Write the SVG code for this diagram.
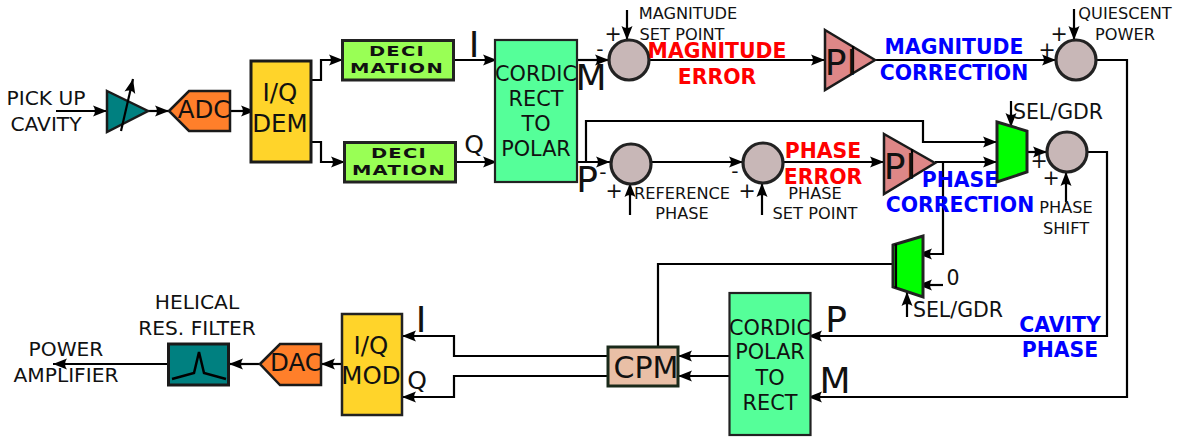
<svg xmlns="http://www.w3.org/2000/svg" width="1181" height="441" viewBox="0 0 1181 441">
<style>
text{font-family:"DejaVu Sans",sans-serif;fill:#111;text-anchor:middle}
.l{fill:none;stroke:#000;stroke-width:2.2}
.a{marker-end:url(#ah)}
.s{stroke:#1a1a1a;stroke-width:2.5}
.t20{font-size:20.5px}.t16{font-size:16.2px}.t18{font-size:20.2px}.c8{font-size:20.8px}
.c{fill:#c8b7b7;stroke:#222;stroke-width:3.2}
.r{fill:#f00;font-weight:bold;font-size:20.4px}
.b{fill:#00f;font-weight:bold;font-size:20.4px}
.d{font-weight:bold;font-size:15px;letter-spacing:1px}
.big{font-size:36px}
.q{font-size:25px}
.m{font-size:24.5px}
</style>
<defs>
<marker id="ah" markerUnits="userSpaceOnUse" markerWidth="18" markerHeight="14" refX="15" refY="7" orient="auto" overflow="visible"><path d="M1 1.500 L15 7 L1 12.500 Q5 7 1 1.500Z" fill="#000"/></marker>
</defs>
<g id="connectors">
<path class="l a" d="M56 111H107"/>
<path class="l a" d="M148 111H169"/>
<path class="l a" d="M230 111H255"/>
<path class="l a" d="M311 80H321V60H343"/>
<path class="l a" d="M311 142H321V162H345"/>
<path class="l a" d="M454 60H497"/>
<path class="l a" d="M456 162H497"/>
<path class="l a" d="M577 60H609"/>
<path class="l a" d="M577 162H610"/>
<path class="l a" d="M586 162V121H923V142H997"/>
<path class="l a" d="M651 162H743"/>
<path class="l a" d="M649 60H825"/>
<path class="l a" d="M875 60H1056"/>
<path class="l a" d="M783 162H884"/>
<path class="l a" d="M935 162H997"/>
<path class="l a" d="M1027 152H1047"/>
<path class="l a" d="M627 10V40"/>
<path class="l a" d="M1074 9V40"/>
<path class="l a" d="M630 215V183"/>
<path class="l a" d="M762 215V183"/>
<path class="l a" d="M1066 202V172"/>
<path class="l a" d="M1011 101V127"/>
<path class="l a" d="M943 162V254H918"/>
<path class="l a" d="M943 285H918"/>
<path class="l a" d="M907 317V292"/>
<path class="l" d="M893 264H658V347"/>
<path class="l a" d="M1087 152H1107V336H808"/>
<path class="l a" d="M1096 60H1127V397H808"/>
<path class="l a" d="M729 356H678"/>
<path class="l a" d="M729 376H678"/>
<path class="l a" d="M607 356H454V336H402"/>
<path class="l a" d="M607 376H454V397H402"/>
<path class="l a" d="M341 364H321"/>
<path class="l a" d="M260 364H229"/>
<path class="l a" d="M168 364H53"/>
</g>
<g id="amp"><path d="M107 91L148 111L107 132Z" fill="#008080" class="s"/><path class="l a" d="M121 131L133 79"/></g>
<g id="adc"><path d="M169 111L189 91H230V131H189Z" fill="#ff7f2a" class="s"/><text x="204" y="118" class="m">ADC</text></g>
<g id="iqdem"><rect x="251" y="61" width="60" height="101" fill="#ffd42a" stroke="#1a1a1a" stroke-width="3"/><text x="280" y="101" class="m">I/Q</text><text x="280" y="132" class="m">DEM</text></g>
<g id="deci1"><rect x="342.500" y="40.500" width="111" height="39.500" fill="#9f5" stroke="#222" stroke-width="3"/><text class="d" transform="translate(397 56) scale(1.3 .92)">DECI</text><text class="d" transform="translate(397 73) scale(1.3 .92)">MATION</text></g>
<g id="deci2"><rect x="344.500" y="142.500" width="111" height="39.500" fill="#9f5" stroke="#222" stroke-width="3"/><text class="d" transform="translate(399 158) scale(1.3 .92)">DECI</text><text class="d" transform="translate(399 175) scale(1.3 .92)">MATION</text></g>
<g id="cordic1"><rect x="495" y="40" width="82" height="142" fill="#5f9" stroke="#222" stroke-width="2.200"/><text x="536" y="81" class="c8">CORDIC</text><text x="536" y="106" class="c8">RECT</text><text x="536" y="131" class="c8">TO</text><text x="536" y="156" class="c8">POLAR</text></g>
<g id="sum1"><circle cx="629" cy="60" r="20" class="c"/></g>
<g id="sum2"><circle cx="631" cy="164" r="20" class="c"/></g>
<g id="sum3"><circle cx="763" cy="163" r="20" class="c"/></g>
<g id="sum4"><circle cx="1076" cy="60" r="20" class="c"/></g>
<g id="sum5"><circle cx="1067" cy="152" r="20" class="c"/></g>
<g id="pi1"><path d="M825 30L875 60L825 90Z" fill="#de8787" class="s"/><path class="l" d="M853 46V73"/><text x="841" y="75" class="big">PI</text></g>
<g id="pi2"><path d="M884 134L935 163L884 194Z" fill="#de8787" class="s"/><path class="l" d="M912 149V178"/><text x="900" y="179" class="big">PI</text></g>
<g id="mux1"><path d="M997 122L1027 131V172L997 182Z" fill="#0f0" stroke="#222" stroke-width="3"/></g>
<g id="mux2"><path d="M893 245L923 236V297L893 287Z" fill="#0f0" stroke="#222" stroke-width="3"/><path class="l" d="M896 244V288"/></g>
<g id="cpm"><rect x="608" y="347" width="70" height="39" fill="#e9bfa6" stroke="#1a2a1a" stroke-width="3"/><text x="646" y="378" style="font-size:30px">CPM</text></g>
<g id="cordic2"><rect x="729.500" y="293" width="81" height="142" fill="#5f9" stroke="#222" stroke-width="2.200"/><text x="770" y="335" class="c8">CORDIC</text><text x="770" y="359" class="c8">POLAR</text><text x="770" y="385" class="c8">TO</text><text x="770" y="410" class="c8">RECT</text></g>
<g id="iqmod"><rect x="342" y="314" width="60" height="101" fill="#ffd42a" stroke="#222" stroke-width="2.500"/><text x="371" y="354" class="m">I/Q</text><text x="371" y="384" class="m">MOD</text></g>
<g id="dac"><path d="M260 364L280 344H321V385H280Z" fill="#ff7f2a" class="s"/><text x="296" y="371" class="m">DAC</text></g>
<g id="filter"><rect x="168.500" y="344" width="60" height="41" fill="#008080" stroke="#1a1a1a" stroke-width="3"/><path d="M172 379L194 373L199 352L204 373L226 379" fill="none" stroke="#000" stroke-width="2.500"/></g>
<g id="labels">
<text x="46" y="105" class="t18">PICK UP</text><text x="46" y="131" class="t18">CAVITY</text>
<text x="197" y="309" class="t18">HELICAL</text><text x="197" y="335" class="t18">RES. FILTER</text>
<text x="66" y="356" class="t18">POWER</text><text x="66" y="382" class="t18">AMPLIFIER</text>
<text x="474" y="57" class="big">I</text><text x="474" y="153" class="q">Q</text>
<text x="591" y="90" class="big">M</text><text x="587" y="192" class="big">P</text>
<text x="421" y="332" class="big">I</text><text x="417" y="389" class="q">Q</text>
<text x="836" y="332" class="big">P</text><text x="835" y="393" class="big">M</text>
<text x="688" y="19" class="t16">MAGNITUDE</text><text x="682" y="40" class="t16">SET POINT</text>
<text x="682" y="199" class="t16">REFERENCE</text><text x="682" y="219" class="t16">PHASE</text>
<text x="815" y="199" class="t16">PHASE</text><text x="815" y="219" class="t16">SET POINT</text>
<text x="1125" y="19" class="t16">QUIESCENT</text><text x="1125" y="40" class="t16">POWER</text>
<text x="1066" y="213" class="t16">PHASE</text><text x="1066" y="234" class="t16">SHIFT</text>
<text x="1058" y="119" class="t20">SEL/GDR</text><text x="958" y="317" class="t20">SEL/GDR</text><text x="953" y="285" class="t20">0</text>
<text x="717" y="58" class="r">MAGNITUDE</text><text x="717" y="84" class="r">ERROR</text>
<text x="823" y="158" class="r">PHASE</text><text x="823" y="184" class="r">ERROR</text>
<text x="954" y="54" class="b">MAGNITUDE</text><text x="954" y="80" class="b">CORRECTION</text>
<text x="960" y="187" class="b">PHASE</text><text x="960" y="212" class="b">CORRECTION</text>
<text x="1060" y="332" class="b">CAVITY</text><text x="1060" y="357" class="b">PHASE</text>
<text x="613" y="41" class="t20">+</text><text x="600" y="56" class="t18">-</text>
<text x="614" y="198" class="t20">+</text><text x="603" y="179" class="t18">-</text>
<text x="747" y="198" class="t20">+</text><text x="735" y="178" class="t18">-</text>
<text x="1059" y="41" class="t20">+</text><text x="1047" y="57" class="t20">+</text>
<text x="1039" y="168" class="t20">+</text><text x="1051" y="185" class="t20">+</text>
</g>
</svg>
